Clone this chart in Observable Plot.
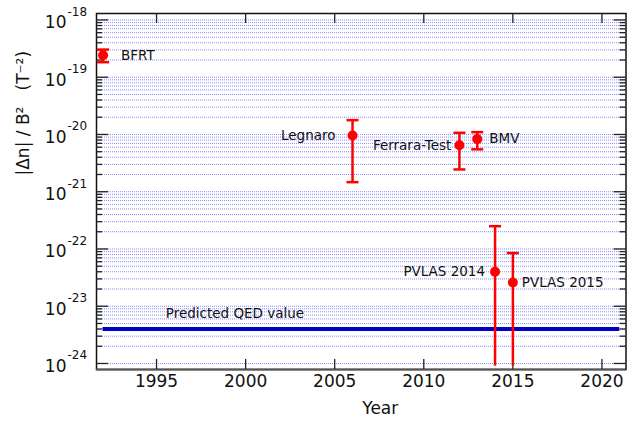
<!DOCTYPE html>
<html><head><meta charset="utf-8">
<script src="https://cdn.jsdelivr.net/npm/d3@7"></script>
<script src="https://cdn.jsdelivr.net/npm/@observablehq/plot@0.6"></script>
<style>body{margin:0;background:#fff}</style>
</head><body><div id="chart"></div>
<script>
// ---- data ----
const experiments = ["BFRT", "Legnaro", "Ferrara-Test", "BMV", "PVLAS 2014", "PVLAS 2015"];
const years  = [1992, 2006, 2012, 2013, 2014, 2015];
const values = [2.42e-19, 9.6e-21, 6.5e-21, 8.3e-21, 4.0e-23, 2.6e-23];
const upper  = [3.04e-19, 1.78e-20, 1.07e-20, 1.1e-20, 2.5e-22, 8.5e-23];
const lower  = [1.83e-19, 1.47e-21, 2.45e-21, 5.5e-21, 9e-25, 9e-25];
const lowerCapped = [true, true, true, true, false, false];
const qedValue = 4.0e-24;
const qedYears = [1992, 2021];
const qedLabel = "Predicted QED value";
const qedLabelYear = 1999.4;
const xTicks = [1995, 2000, 2005, 2010, 2015, 2020];
const yDecades = [-24, -23, -22, -21, -20, -19, -18];
const yMinorMultipliers = [2, 3, 4, 5, 6, 7, 8, 9];
const xLabel = "Year";
const yLabel = "|Δn| / B²   (T⁻²)";

// ---- layout / style ----
const W = 627, H = 423, ML = 96, MR = 1.5, MT = 13, MB = 54;
const innerW = W - ML - MR, innerH = H - MT - MB;
const xDomain = [1991.63, 2021.35];
const yDomain = [Math.pow(10, -24.105), Math.pow(10, -17.887)];
const labelPlacement = {
  "BFRT": {dx: 18, anchor: "start"},
  "Legnaro": {dx: -17, anchor: "end"},
  "Ferrara-Test": {dx: -8, anchor: "end"},
  "BMV": {dx: 12, anchor: "start"},
  "PVLAS 2014": {dx: -10, anchor: "end"},
  "PVLAS 2015": {dx: 9, anchor: "start"}
};
const FONT = "DejaVu Sans";

const rows = experiments.map((name, i) => ({
  name, year: years[i], value: values[i], hi: upper[i], lo: lower[i], capLo: lowerCapped[i]
}));
const majors = yDecades.map(d => Math.pow(10, d));
const minors = yDecades.slice(0, -1).flatMap(d => yMinorMultipliers.map(m => m * Math.pow(10, d)));
const allY = majors.concat(minors);

const capSymbol = {draw(ctx, size) { const r = Math.sqrt(size / Math.PI); ctx.moveTo(-r, 0); ctx.lineTo(r, 0); }};

const textMarks = experiments.map(name => Plot.text(rows.filter(r => r.name === name), {
  x: "year", y: "value", text: "name", dx: labelPlacement[name].dx,
  textAnchor: labelPlacement[name].anchor, fontSize: 13.5, fill: "#111"
}));

const chart = Plot.plot({
  width: W, height: H, marginLeft: ML, marginRight: MR, marginTop: MT, marginBottom: MB,
  style: {fontFamily: FONT, fontSize: "17px", background: "#fff", color: "#111"},
  x: {domain: xDomain, axis: null},
  y: {type: "log", domain: yDomain, axis: null},
  marks: [
    // grid
    Plot.ruleY(allY, {stroke: "#8a8aff", strokeWidth: 1, strokeDasharray: "1,1"}),
    // QED line
    Plot.ruleY([qedValue], {x1: qedYears[0], x2: qedYears[1], stroke: "#0000c8", strokeWidth: 4}),
    Plot.text([qedLabel], {x: qedLabelYear, y: qedValue, dy: -15, fontSize: 13.5, fill: "#111"}),
    // frame
    Plot.frame({stroke: "#111", strokeWidth: 1.5}),
    Plot.ruleY([yDomain[0]], {stroke: "#555", strokeWidth: 2}),
    // y ticks (inward, both sides)
    Plot.ruleY(majors, {insetRight: innerW - 12, stroke: "#222", strokeWidth: 1.3}),
    Plot.ruleY(majors, {insetLeft: innerW - 12, stroke: "#222", strokeWidth: 1.3}),
    Plot.ruleY(minors, {insetRight: innerW - 6, stroke: "#222", strokeWidth: 1.3}),
    Plot.ruleY(minors, {insetLeft: innerW - 6, stroke: "#222", strokeWidth: 1.3}),
    // x ticks (inward, top and bottom)
    Plot.ruleX(xTicks, {insetTop: innerH - 10, stroke: "#222", strokeWidth: 1.3}),
    Plot.ruleX(xTicks, {insetBottom: innerH - 10, stroke: "#222", strokeWidth: 1.3}),
    // tick labels
    Plot.text(xTicks, {x: d => d, text: d => String(d), frameAnchor: "bottom", dy: 17, fontSize: 17, fill: "#111"}),
    Plot.text(yDecades, {y: d => Math.pow(10, d), text: () => "10", frameAnchor: "left", textAnchor: "end", dx: -30, dy: 3, fontSize: 17, fill: "#111"}),
    Plot.text(yDecades, {y: d => Math.pow(10, d), text: d => String(d), frameAnchor: "left", textAnchor: "start", dx: -29, dy: -8, fontSize: 12, fill: "#111"}),
    // axis labels
    Plot.text([xLabel], {frameAnchor: "bottom", dx: 19, dy: 44, fontSize: 17, fill: "#111"}),
    Plot.text([yLabel], {frameAnchor: "left", rotate: -90, dx: -73, dy: -16, fontSize: 17, fill: "#111"}),
    // error bars
    Plot.ruleX(rows, {x: "year", y1: "lo", y2: "hi", stroke: "#ff0000", strokeWidth: 2.5}),
    Plot.dot(rows, {x: "year", y: "hi", symbol: capSymbol, r: 6, stroke: "#ff0000", fill: "none", strokeWidth: 2.5}),
    Plot.dot(rows.filter(r => r.capLo), {x: "year", y: "lo", symbol: capSymbol, r: 6, stroke: "#ff0000", fill: "none", strokeWidth: 2.5}),
    Plot.dot(rows, {x: "year", y: "value", r: 5, fill: "#ff0000", stroke: "none"}),
    ...textMarks
  ]
});
document.getElementById("chart").append(chart);
</script>
</body></html>
